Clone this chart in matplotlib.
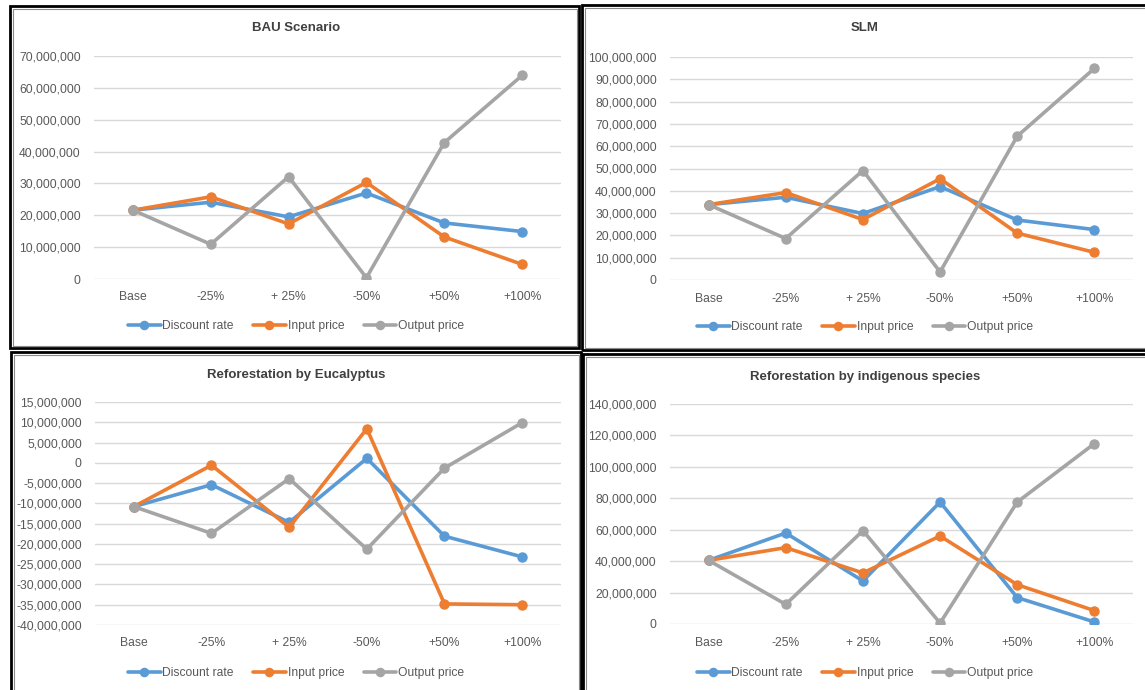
import matplotlib
matplotlib.use("Agg")
import matplotlib.pyplot as plt
from matplotlib.patches import Rectangle
from matplotlib.ticker import FuncFormatter, MultipleLocator

W, H = 1145, 690

categories = ["Base", "-25%", "+ 25%", "-50%", "+50%", "+100%"]
series_names = ["Discount rate", "Input price", "Output price"]
colors = ["#5B9BD5", "#ED7D31", "#A5A5A5"]

# BAU Scenario
bau_discount = [21.6e6, 24.1e6, 19.5e6, 27.0e6, 17.6e6, 14.9e6]
bau_input = [21.6e6, 25.8e6, 17.3e6, 30.3e6, 13.2e6, 4.6e6]
bau_output = [21.6e6, 10.9e6, 32.1e6, 0.4e6, 42.8e6, 63.9e6]

# SLM
slm_discount = [33.8e6, 37.1e6, 29.8e6, 41.9e6, 26.9e6, 22.6e6]
slm_input = [33.8e6, 39.2e6, 27.1e6, 45.4e6, 21.0e6, 12.4e6]
slm_output = [33.8e6, 18.6e6, 49.1e6, 3.6e6, 64.5e6, 94.9e6]

# Reforestation by Eucalyptus
euc_discount = [-10.8e6, -5.4e6, -14.7e6, 1.1e6, -18.1e6, -23.2e6]
euc_input = [-10.8e6, -0.6e6, -15.9e6, 8.4e6, -34.8e6, -35.0e6]
euc_output = [-10.8e6, -17.4e6, -3.9e6, -21.3e6, -1.3e6, 9.9e6]

# Reforestation by indigenous species
ind_discount = [40.5e6, 57.9e6, 27.4e6, 77.6e6, 16.8e6, 1.3e6]
ind_input = [40.5e6, 48.6e6, 32.5e6, 56.0e6, 25.0e6, 8.5e6]
ind_output = [40.5e6, 12.5e6, 59.4e6, 0.6e6, 77.6e6, 114.8e6]

titles = ["BAU Scenario", "SLM", "Reforestation by Eucalyptus",
          "Reforestation by indigenous species"]

plt.rcParams["font.family"] = ["Liberation Sans", "DejaVu Sans"]
TEXT = "#595959"
TITLE = "#404040"

fig = plt.figure(figsize=(W / 100, H / 100), dpi=100)
fig.patch.set_facecolor("white")


def frac_box(x0, y0, x1, y1):
    return [x0 / W, 1 - y1 / H, (x1 - x0) / W, (y1 - y0) / H]


def frame(x0, y0, x1, y1):
    fig.patches.append(Rectangle((x0 / W, 1 - y1 / H), (x1 - x0) / W, (y1 - y0) / H,
                                 transform=fig.transFigure, fill=False,
                                 edgecolor="black", linewidth=2.0, zorder=5))
    fig.patches.append(Rectangle(((x0 + 2.5) / W, 1 - (y1 - 2.5) / H),
                                 (x1 - x0 - 5) / W, (y1 - y0 - 5) / H,
                                 transform=fig.transFigure, fill=False,
                                 edgecolor="#8a8a8a", linewidth=0.8, zorder=5))


frame(10, 6, 579, 348)
frame(582, 5, 1160, 350)
frame(11, 352, 581, 700)
frame(583, 354, 1160, 700)

panels = [
    (titles[0], (bau_discount, bau_input, bau_output), (94, 56, 561, 279), (0, 70e6), 10e6, (296, 28), 326),
    (titles[1], (slm_discount, slm_input, slm_output), (670, 57, 1133, 280), (0, 100e6), 10e6, (865, 28), 327),
    (titles[2], (euc_discount, euc_input, euc_output), (95, 402, 561, 625), (-40e6, 15e6), 5e6, (296, 375), 673),
    (titles[3], (ind_discount, ind_input, ind_output), (670, 404, 1133, 624), (0, 140e6), 20e6, (865, 377), 673),
]

fmt = FuncFormatter(lambda v, p: f"{v:,.0f}" if abs(v) > 0.5 else "0")
x = list(range(len(categories)))
FS = 8.7

for title, series, box, ylim, step, tpos, legy in panels:
    ax = fig.add_axes(frac_box(*box))
    ax.set_facecolor("none")
    for vals, name, c in zip(series, series_names, colors):
        ax.plot(x, vals, color=c, lw=2.6, marker="o", ms=6.5, label=name,
                solid_capstyle="round", zorder=3)
    ax.set_xlim(-0.5, len(categories) - 0.5)
    ax.set_ylim(*ylim)
    ax.yaxis.set_major_locator(MultipleLocator(step))
    ax.yaxis.set_major_formatter(fmt)
    ax.set_xticks(x)
    ax.set_xticklabels(categories)
    ax.grid(axis="y", color="#D9D9D9", lw=1.0, zorder=0)
    for s in ax.spines.values():
        s.set_visible(False)
    ax.tick_params(length=0, labelsize=FS, labelcolor=TEXT)
    ax.tick_params(axis="y", pad=9.5)
    ax.tick_params(axis="x", pad=9)
    fig.text(tpos[0] / W, 1 - tpos[1] / H, title, ha="center", va="center",
             fontsize=9.5, fontweight="bold", color=TITLE)
    ax.legend(loc="center", bbox_to_anchor=(tpos[0] / W, 1 - legy / H),
              bbox_transform=fig.transFigure, ncol=3, frameon=False,
              fontsize=FS, labelcolor=TEXT, handlelength=2.7, handletextpad=0.15,
              columnspacing=1.6, markerscale=0.9)

fig.savefig("out.png", dpi=100, facecolor="white")
